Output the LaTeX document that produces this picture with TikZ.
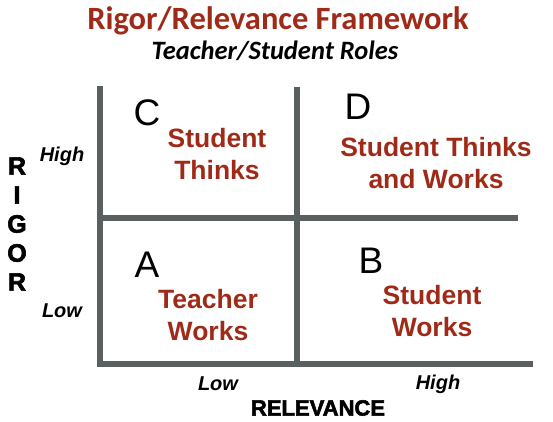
\documentclass[tikz,border=0pt]{standalone}
\usepackage{fontspec}
\setmainfont{Liberation Sans}
\newfontfamily\calib{Carlito}
\newfontfamily\heavy[FakeBold=2.5]{Liberation Sans Bold}
\definecolor{frred}{HTML}{A02A18}
\definecolor{frgray}{HTML}{5A5F5F}
\begin{document}
\begin{tikzpicture}[x=1pt,y=-1pt,
  axisline/.style={draw=frgray,line width=6pt},
  quadtext/.style={text=frred,font=\fontsize{26.5}{32}\selectfont\bfseries,align=center},
  qletter/.style={font=\fontsize{37}{37}\selectfont},
  ticklab/.style={font=\fontsize{20}{20}\selectfont\bfseries\itshape},
  axistitle/.style={font=\fontsize{22}{22}\selectfont\bfseries}]
\useasboundingbox (0,0) rectangle (553,422);
% axes
\coordinate (lt) at (100,86);
\coordinate (lb) at (100,364);
\coordinate (br) at (533,364);
\coordinate (mt) at (297,87);
\coordinate (mb) at (297,364);
\coordinate (hl) at (100,218);
\coordinate (hr) at (518,218);
\draw[axisline] (lt) -- (lb) -- (br);
\draw[axisline] (mt) -- (mb);
\draw[axisline] (hl) -- (hr);
% title
\node[text=frred,font=\calib\fontsize{32.5}{32.5}\selectfont\bfseries] (title) at (278,21) {Rigor/Relevance Framework};
\node[font=\calib\fontsize{26.5}{26.5}\selectfont\bfseries\itshape] (sub) at (275,51) {Teacher/Student Roles};
% quadrant letters
\node[qletter] (C) at (147,113) {C};
\node[qletter] (D) at (358,107) {D};
\node[qletter] (A) at (147,265) {A};
\node[qletter] (B) at (371,261) {B};
% quadrant texts
\node[quadtext] (qc) at (217,154) {Student\\Thinks};
\node[quadtext] (qd) at (436,163) {Student Thinks\\and Works};
\node[quadtext] (qa) at (208,315) {Teacher\\Works};
\node[quadtext] (qb) at (432,311) {Student\\Works};
% rigor axis
\node[font=\heavy\fontsize{25}{25}\selectfont,align=center] (rigor) at (17,224) {R\\[4pt]I\\[4pt]G\\[4pt]O\\[4pt]R};
\node[ticklab] (rh) at (62,156) {High};
\node[ticklab] (rl) at (62,311) {Low};
% relevance axis
\node[ticklab] (cl) at (218,384) {Low};
\node[ticklab] (ch) at (438,384) {High};
\node[font=\heavy\fontsize{22}{22}\selectfont] (relev) at (318,408) {RELEVANCE};
\end{tikzpicture}
\end{document}
